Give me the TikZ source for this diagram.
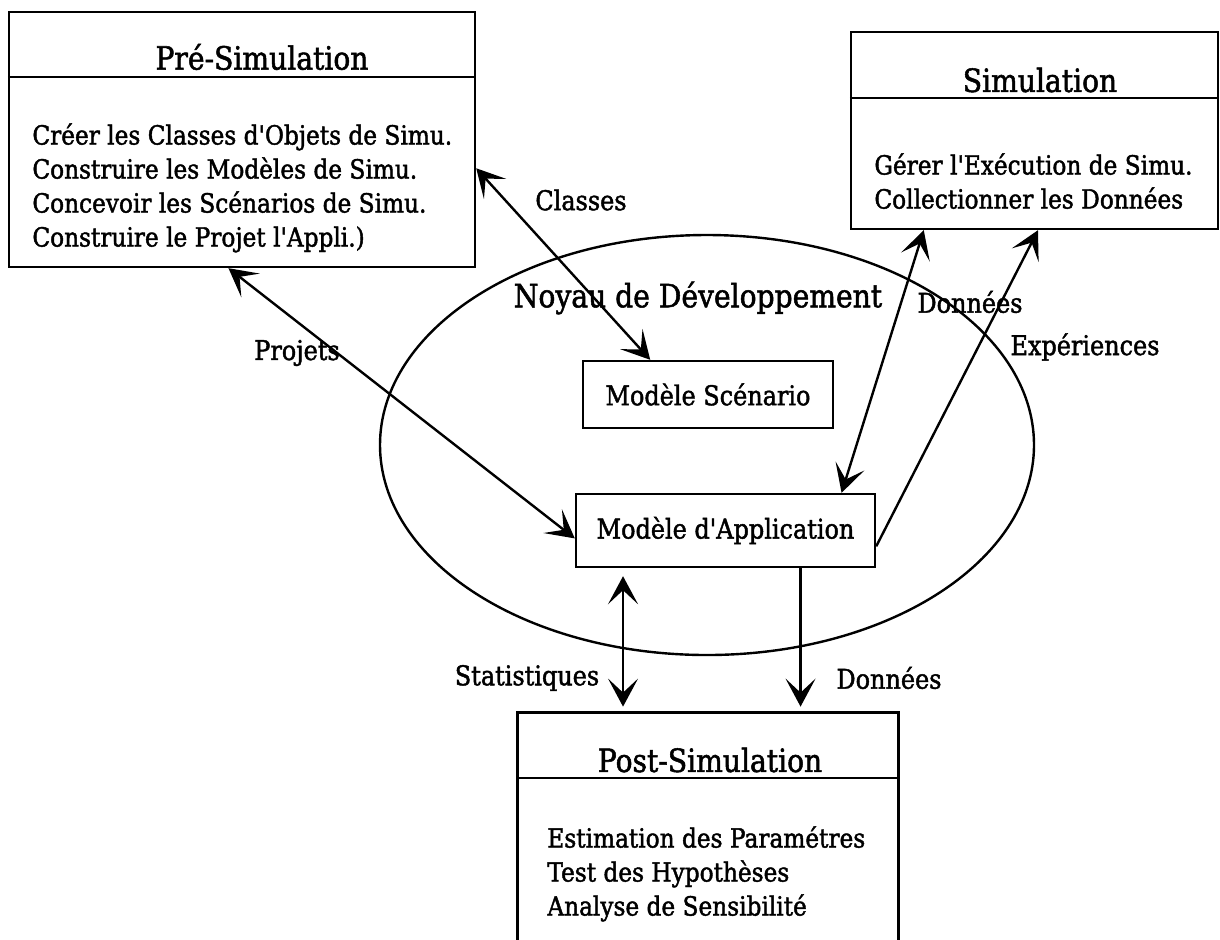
\documentclass[tikz,border=0pt]{standalone}
\usepackage{fontspec}
\setmainfont{DejaVu Serif}[Ligatures=TeXOff,FakeStretch=0.88,FakeBold=1.6]
\usetikzlibrary{arrows.meta,positioning,calc,shapes.geometric}

\begin{document}
\begin{tikzpicture}[x=0.5pt,y=-0.5pt,
      bloc/.style={draw,line width=1.2pt,inner sep=0pt},
      titre/.style={font=\fontsize{16}{19}\selectfont,inner sep=0pt},
      corps/.style={font=\fontsize{13.2}{17}\selectfont,align=left,anchor=north west,inner sep=0pt},
      etiq/.style={font=\fontsize{13.6}{15}\selectfont,inner sep=0pt},
      arr/.style={-{Stealth[length=14pt,width=15pt,inset=7pt]},line width=1.2pt},
      darr/.style={{Stealth[length=14pt,width=15pt,inset=7pt]}-{Stealth[length=14pt,width=15pt,inset=7pt]},line width=1.2pt}
    ]
    \useasboundingbox (0,0) rectangle (1220,939);
    % blocs des trois phases
    \node[bloc,minimum width=233pt,minimum height=127.5pt] (pre) at (242,139.5) {};
    \draw[line width=1.2pt] (pre.west |- 0,77) -- (pre.east |- 0,77);
    \node[titre] (pretitre) at (262,57) {Pré-Simulation};
    \node[corps] (precorps) at (32,123) {Créer les Classes d'Objets de Simu.\\Construire les Modèles de Simu.\\Concevoir les Scénarios de Simu.\\Construire le Projet l'Appli.)};
    \node[bloc,minimum width=183.5pt,minimum height=98.5pt] (sim) at (1034.5,130.5) {};
    \draw[line width=1.2pt] (sim.west |- 0,98) -- (sim.east |- 0,98);
    \node[titre] (simtitre) at (1040,80) {Simulation};
    \node[corps] (simcorps) at (874,153) {Gérer l'Exécution de Simu.\\Collectionner les Données};
    \node[minimum width=190pt,minimum height=120pt,inner sep=0pt] (post) at (708,833) {};
    \draw[line width=1.2pt] (post.south west) |- (post.north east) -- (post.south east);
    \draw[line width=1.2pt] (post.west |- 0,778) -- (post.east |- 0,778);
    \node[titre] (posttitre) at (710,760) {Post-Simulation};
    \node[corps] (postcorps) at (547,826) {Estimation des Paramétres\\Test des Hypothèses\\Analyse de Sensibilité};
    % noyau
    \node[ellipse,draw,line width=1.2pt,minimum width=327pt,minimum height=210pt,inner sep=0pt] (noyau) at (707,445) {};
    \node[titre] (noyautitre) at (698,298) {Noyau de Développement};
    \node[bloc,etiq,minimum width=125pt,minimum height=33.5pt] (scen) at (708,394.5) {Modèle Scénario};
    \node[bloc,etiq,minimum width=149.5pt,minimum height=36.5pt] (app) at (725.5,530.5) {Modèle d'Application};
    \coordinate (stathaut) at ($(app.south west)!0.16!(app.south east)$);
    \coordinate (donhaut) at ($(app.south west)!0.749!(app.south east)$);
    % flux
    \draw[darr] (pre.-7.5) -- (scen.149);
    \draw[darr] (pre.264.6) -- (app.183);
    \draw[darr] (sim.222.5) -- (app.18);
    \draw[arr] (app.-6.3) -- (sim.272);
    \draw[darr,shorten <=4pt,shorten >=3pt] (stathaut) -- (stathaut |- post.north);
    \draw[arr,shorten >=3pt] (donhaut) -- (donhaut |- post.north);
    \node[etiq] (lclasses) at (581,200) {Classes};
    \node[etiq] (lprojets) at (297,353) {Projets};
    \node[etiq] (ldonsim) at (970,302) {Données};
    \node[etiq] (lexp) at (1085,347) {Expériences};
    \node[etiq] (lstat) at (527,678) {Statistiques};
    \node[etiq] (ldonpost) at (889,678) {Données};
  \end{tikzpicture}
\end{document}
